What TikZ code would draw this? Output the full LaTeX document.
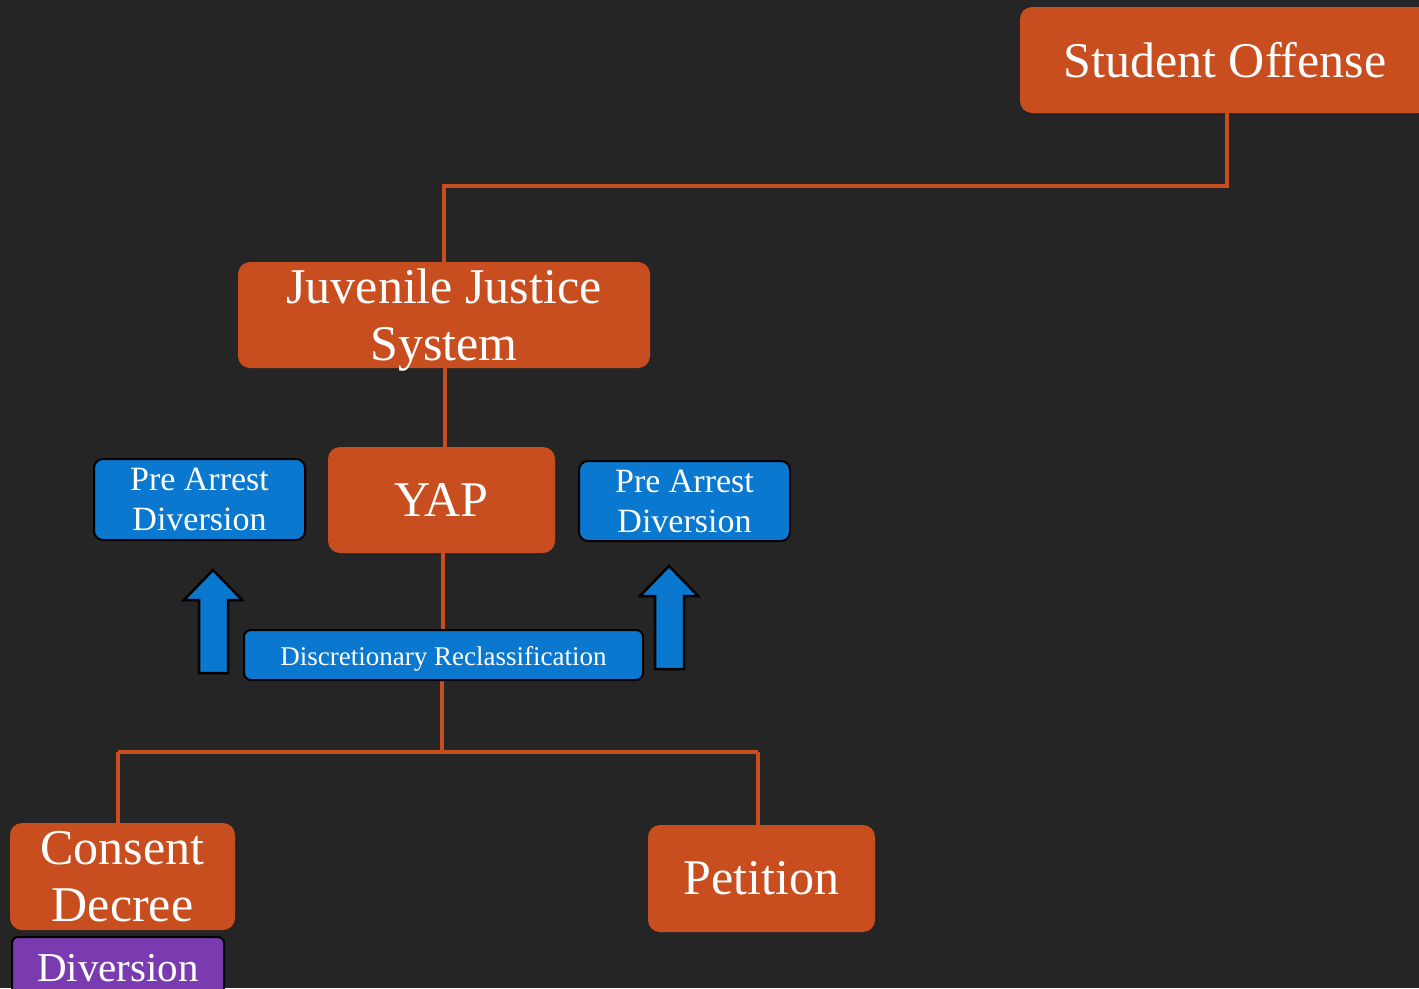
\documentclass[tikz,border=0pt]{standalone}
\usepackage{fontspec}
\setmainfont{Liberation Serif}
\definecolor{bgc}{HTML}{252526}
\definecolor{orng}{HTML}{C84E20}
\definecolor{blu}{HTML}{0B78CF}
\definecolor{purp}{HTML}{7A3BB0}
\pgfdeclarelayer{background}
\pgfsetlayers{background,main}
\newcommand{\lowerby}[2]{\raisebox{-#1}[\height][\depth]{#2}}
\begin{document}
\begin{tikzpicture}[x=1pt,y=-1pt,
  obox/.style={fill=orng,rounded corners=12pt,text=white,align=center,inner sep=0pt,font=\fontsize{50}{57}\selectfont},
  bbox/.style={fill=blu,draw=black,line width=2pt,rounded corners=9pt,text=white,align=center,inner sep=0pt},
  pbox/.style={fill=purp,draw=black,line width=2pt,rounded corners=6pt,text=white,align=center,inner sep=0pt},
  conn/.style={draw=orng,line width=4pt},
  uparrow/.style={fill=blu,draw=black,line width=2.5pt,line join=miter}]
\useasboundingbox (0,0) rectangle (1419,988);
\clip (0,0) rectangle (1419,988);
\node[obox,minimum width=410pt,minimum height=106pt] (so) at (1225,60) {Student Offense};
\node[obox,minimum width=412pt,minimum height=106pt] (jjs) at (444,315) {\lowerby{5pt}{\parbox{400pt}{\centering Juvenile Justice\\System}}};
\node[obox,minimum width=227pt,minimum height=106pt] (yap) at (441.5,500) {YAP};
\node[bbox,minimum width=211pt,minimum height=81pt,font=\fontsize{34}{40}\selectfont] (padl) at (199.5,499.5) {Pre Arrest\\Diversion};
\node[bbox,minimum width=211pt,minimum height=80pt,font=\fontsize{34}{40}\selectfont] (padr) at (684.5,501) {Pre Arrest\\Diversion};
\node[bbox,minimum width=399pt,minimum height=50pt,rounded corners=7pt,font=\fontsize{27}{30}\selectfont] (dr) at (443.5,655) {\lowerby{4pt}{Discretionary Reclassification}};
\node[obox,minimum width=225pt,minimum height=107pt] (cd) at (122.5,876.5) {Consent\\Decree};
\node[obox,minimum width=227pt,minimum height=107pt] (pet) at (761.5,878.5) {Petition};
\node[pbox,minimum width=212pt,minimum height=62pt,font=\fontsize{41}{45}\selectfont,anchor=north] (div) at (118,936) {Diversion};
\coordinate (j1) at (1227,186);
\coordinate (j2) at (444,186);
\coordinate (b0) at (442,752);
\coordinate (bl) at (118,752);
\coordinate (br) at (758,752);
\begin{pgfonlayer}{background}
\fill[bgc] (0,0) rectangle (1419,988);
\draw[conn] (so.south -| j1) -- (j1) -- (j2) -- (j2 |- jjs.north);
\draw[conn] (jjs.south -| 445,0) -- (yap.north -| 445,0);
\draw[conn] (yap.south -| 443,0) -- (dr.north -| 443,0);
\draw[conn] (dr.south -| b0) -- (b0);
\draw[conn] (bl) -- (br);
\draw[conn] (bl) -- (bl |- cd.north);
\draw[conn] (br) -- (br |- pet.north);
\end{pgfonlayer}
% up arrows
\draw[uparrow] (199,673) -- (199,600) -- (184,600) -- (213,570) -- (242,600) -- (228,600) -- (228,673) -- cycle;
\draw[uparrow] (655,669) -- (655,596) -- (640,596) -- (669,566) -- (698,596) -- (684,596) -- (684,669) -- cycle;
\end{tikzpicture}
\end{document}
